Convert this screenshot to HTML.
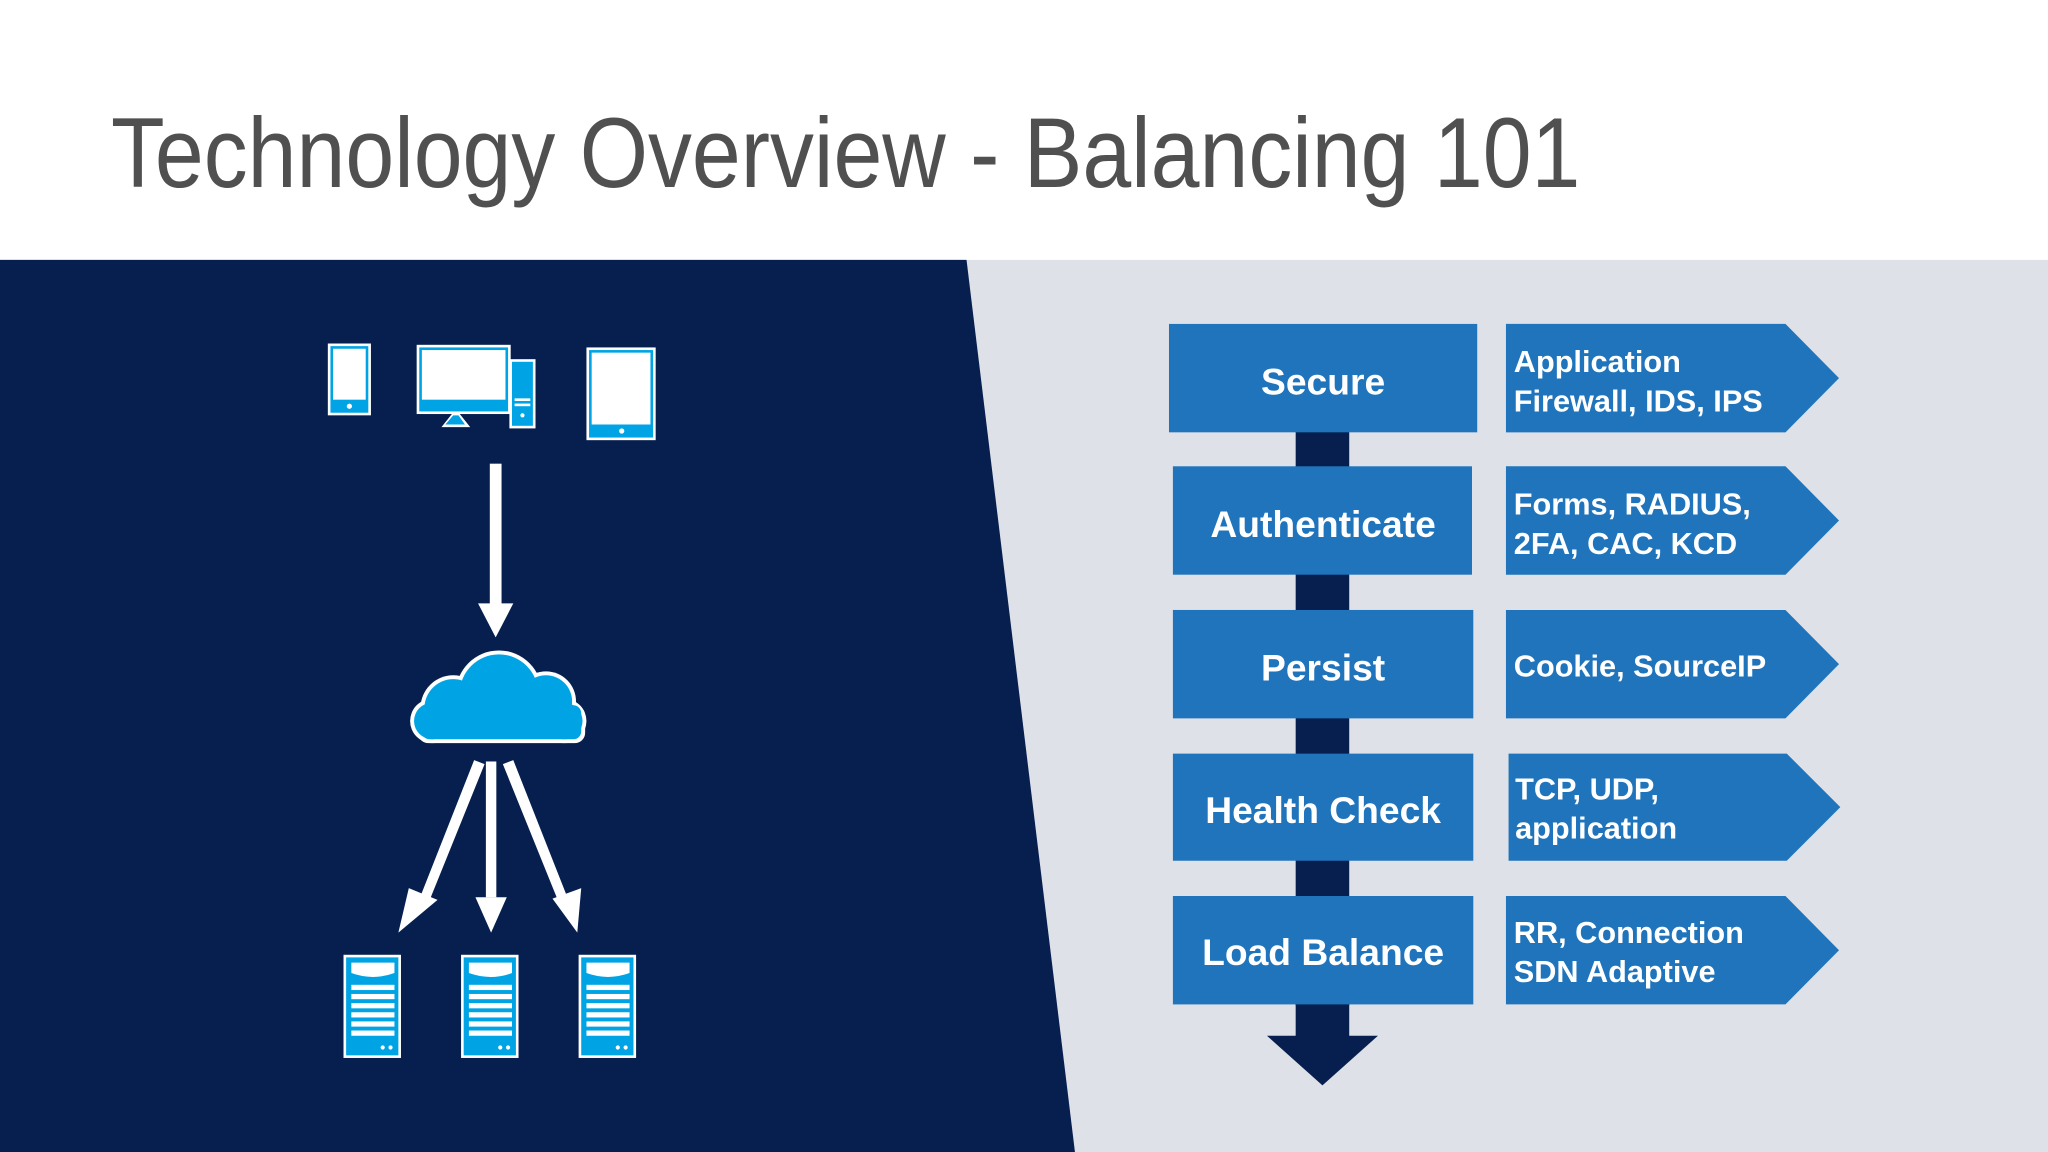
<!DOCTYPE html>
<html><head><meta charset="utf-8"><style>
html,body{margin:0;padding:0;background:#fff;}
svg{display:block;}
</style></head><body>
<svg width="2048" height="1152" viewBox="0 0 1568 882" xmlns="http://www.w3.org/2000/svg">
<rect width="1568" height="882" fill="#ffffff"/>
<text x="85" y="143" font-family="Liberation Sans, sans-serif" font-size="76" fill="#505050" textLength="1125" lengthAdjust="spacingAndGlyphs">Technology Overview - Balancing 101</text>
<rect x="0" y="199" width="1568" height="683" fill="#dfe1e8"/>
<polygon points="0,199 740,199 823,882 0,882" fill="#061f4e"/>

<g>
<rect x="251" y="263" width="33" height="55" fill="#fff"/>
<rect x="253" y="265" width="29" height="51" fill="#00a4e4"/>
<rect x="255" y="267" width="25" height="39" fill="#fff"/>
<circle cx="267.5" cy="311" r="2" fill="#fff"/>

<rect x="319" y="264" width="72" height="53" fill="#fff"/>
<rect x="321" y="266" width="68" height="49" fill="#00a4e4"/>
<rect x="323" y="268" width="64" height="38" fill="#fff"/>
<polygon points="338,327 360,327 352,317 346,317" fill="#fff"/>
<polygon points="341,325 356,325 351,318 347,318" fill="#00a4e4"/>
<rect x="390" y="275" width="20" height="53" fill="#fff"/>
<rect x="392" y="277" width="16" height="49" fill="#00a4e4"/>
<rect x="394" y="305" width="12" height="2" fill="#fff"/>
<rect x="394" y="309" width="12" height="2" fill="#fff"/>
<circle cx="400" cy="318" r="1.6" fill="#fff"/>

<rect x="449" y="266" width="53" height="71" fill="#fff"/>
<rect x="451" y="268" width="49" height="67" fill="#00a4e4"/>
<rect x="453" y="270" width="45" height="55" fill="#fff"/>
<circle cx="476" cy="330" r="2" fill="#fff"/>
</g>

<rect x="375" y="355" width="9" height="108" fill="#fff"/>
<polygon points="366,462 393,462 379.5,488" fill="#fff"/>

<g fill="#fff">
<circle cx="382" cy="531" r="33"/>
<circle cx="418" cy="537" r="23"/>
<circle cx="347" cy="542" r="25"/>
<circle cx="331" cy="552" r="17"/>
<circle cx="432" cy="552" r="17"/>
<rect x="320" y="540" width="128" height="29" rx="8"/>
</g>
<g fill="#00a4e4">
<circle cx="382" cy="531" r="30"/>
<circle cx="418" cy="537" r="20"/>
<circle cx="347" cy="542" r="22"/>
<circle cx="331" cy="552" r="14"/>
<circle cx="432" cy="552" r="14"/>
<rect x="323" y="540" width="122" height="26" rx="6"/>
</g>

<polygon points="363,582 371,585 329,689 322,686" fill="#fff"/>
<polygon points="313,680 335,689 305,714" fill="#fff"/>
<rect x="372" y="583" width="8" height="104" fill="#fff"/>
<polygon points="364,687 388,687 376,714" fill="#fff"/>
<polygon points="385,585 393,582 434,686 427,689" fill="#fff"/>
<polygon points="423,688 445,680 442,714" fill="#fff"/>

<g id="srv">
<rect x="263" y="731" width="44" height="79" fill="#fff"/>
<rect x="265" y="733" width="40" height="75" fill="#00a4e4"/>
<path d="M269,737 H302 V745 Q285.5,751 269,745 Z" fill="#fff"/>
<g fill="#fff">
<rect x="269" y="754" width="33" height="4"/>
<rect x="269" y="761" width="33" height="4"/>
<rect x="269" y="768" width="33" height="4"/>
<rect x="269" y="775" width="33" height="4"/>
<rect x="269" y="782" width="33" height="4"/>
<rect x="269" y="789" width="33" height="4"/>
<circle cx="293" cy="802" r="1.6"/>
<circle cx="299" cy="802" r="1.6"/>
</g>
</g>
<use href="#srv" x="90"/>
<use href="#srv" x="180"/>

<rect x="992" y="330" width="41" height="440" fill="#061f4e"/>
<rect x="992" y="768" width="41" height="26" fill="#061f4e"/>
<polygon points="970,793 1055,793 1012.5,831" fill="#061f4e"/>

<g fill="#1f74bb">
<rect x="895" y="248" width="236" height="83"/>
<rect x="898" y="357" width="229" height="83"/>
<rect x="898" y="467" width="230" height="83"/>
<rect x="898" y="577" width="230" height="82"/>
<rect x="898" y="686" width="230" height="83"/>
<polygon points="1153,248 1367,248 1408,289.5 1367,331 1153,331"/>
<polygon points="1153,357 1367,357 1408,398.5 1367,440 1153,440"/>
<polygon points="1153,467 1367,467 1408,508.5 1367,550 1153,550"/>
<polygon points="1155,577 1368,577 1409,618 1368,659 1155,659"/>
<polygon points="1153,686 1367,686 1408,727.5 1367,769 1153,769"/>
</g>
<g font-family="Liberation Sans, sans-serif" font-weight="bold" fill="#fff" font-size="28.5" text-anchor="middle">
<text x="1013" y="302">Secure</text>
<text x="1013" y="411">Authenticate</text>
<text x="1013" y="521">Persist</text>
<text x="1013" y="630">Health Check</text>
<text x="1013" y="739">Load Balance</text>
</g>
<g font-family="Liberation Sans, sans-serif" font-weight="bold" fill="#fff" font-size="23.5">
<text x="1159" y="285">Application</text>
<text x="1159" y="315">Firewall, IDS, IPS</text>
<text x="1159" y="394">Forms, RADIUS,</text>
<text x="1159" y="424">2FA, CAC, KCD</text>
<text x="1159" y="518">Cookie, SourceIP</text>
<text x="1160" y="612">TCP, UDP,</text>
<text x="1160" y="642">application</text>
<text x="1159" y="722">RR, Connection</text>
<text x="1159" y="752">SDN Adaptive</text>
</g>
</svg>
</body></html>
